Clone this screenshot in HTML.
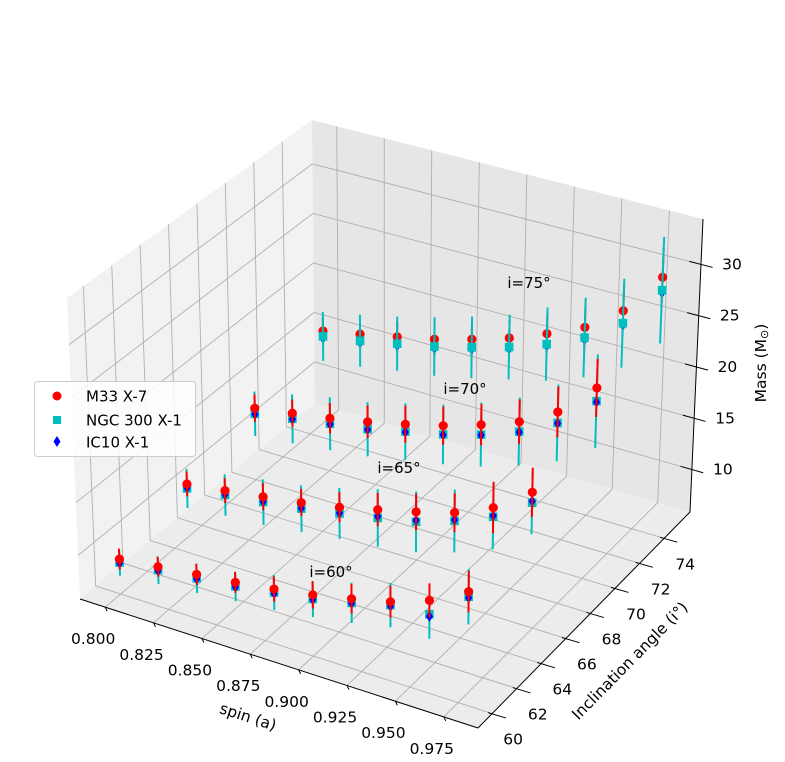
<!DOCTYPE html>
<html><head><meta charset="utf-8"><style>
html,body{margin:0;padding:0;background:#fff;}
#wrap{position:relative;width:785px;height:762px;overflow:hidden;}
svg{position:absolute;left:0;top:0;font-family:"DejaVu Sans","Liberation Sans",sans-serif;}
</style></head><body>
<div id="wrap">
<svg id="chart" width="785" height="762" viewBox="0 0 785 762">
  <g id="panes"></g>
  <g id="grid"></g>
  <g id="axes"></g>
  <g id="marks"></g>
  <g id="annot" font-size="15">
    <text x="331" y="577" text-anchor="middle">i=60°</text>
    <text x="399" y="473" text-anchor="middle">i=65°</text>
    <text x="465" y="394" text-anchor="middle">i=70°</text>
    <text x="529" y="288" text-anchor="middle">i=75°</text>
  </g>
  <g id="legend">
    <rect x="34.5" y="381.5" width="161" height="75" rx="3" fill="#fff" fill-opacity="0.85" stroke="#ccc"/>
    <g>
      <circle cx="57" cy="396" r="4.5" fill="#ff0000"/>
      <text x="86" y="401.5" font-size="15">M33 X-7</text>
    </g>
    <g>
      <rect x="53" y="416" width="8" height="8" fill="#00bfbf"/>
      <text x="86" y="425.5" font-size="15">NGC 300 X-1</text>
    </g>
    <g>
      <polygon points="57,436 60.5,441.5 57,447 53.5,441.5" fill="#0000ff"/>
      <text x="86" y="447.5" font-size="15">IC10 X-1</text>
    </g>
  </g>
</svg>
</div>
<script>
// ---- data ----
const spins = [0.80, 0.82, 0.84, 0.86, 0.88, 0.90, 0.92, 0.94, 0.96, 0.98];
const inclinations = [60, 65, 70, 75];
const m33Mass = [
  [9.18, 9.63, 10.08, 10.49, 11.03, 11.65, 12.44, 13.32, 14.61, 16.58],
  [10.98, 11.47, 12.01, 12.58, 13.26, 14.14, 15.05, 16.09, 17.68, 20.24],
  [12.90, 13.50, 14.09, 14.82, 15.67, 16.60, 17.76, 19.11, 21.11, 24.47],
  [15.04, 15.77, 16.53, 17.32, 18.35, 19.49, 20.92, 22.55, 25.17, 29.41]
];
const m33Err = [
  [1.0, 0.95, 1.0, 1.0, 1.2, 1.3, 1.4, 1.5, 1.6, 1.95],
  [1.2, 1.2, 1.3, 1.3, 1.45, 1.6, 1.75, 1.85, 2.45, 2.35],
  [1.35, 1.35, 1.5, 1.6, 1.8, 1.85, 2.0, 2.15, 2.45, 2.8],
  [1.3, 1.4, 1.5, 1.6, 1.7, 1.8, 2.0, 2.2, 2.5, 2.9]
];
const ngcMass = [
  [8.85, 9.3, 9.7, 10.1, 10.7, 11.25, 12.05, 13.0, 13.3, 16.1],
  [10.55, 11.05, 11.5, 12.0, 12.65, 13.35, 14.1, 15.3, 16.8, 19.25],
  [12.35, 12.95, 13.55, 14.1, 14.95, 15.75, 16.8, 18.15, 20.05, 23.2],
  [14.5, 15.1, 15.85, 16.6, 17.55, 18.6, 19.9, 21.55, 23.95, 28.15]
];
const ngcErr = [
  [1.25, 1.3, 1.4, 1.4, 1.65, 1.7, 1.9, 2.1, 2.3, 2.6],
  [1.9, 2.0, 2.2, 2.25, 2.45, 2.75, 2.9, 3.0, 3.1, 3.0],
  [2.2, 2.4, 2.6, 2.65, 2.75, 2.9, 3.1, 3.3, 3.7, 4.5],
  [2.45, 2.6, 2.7, 2.9, 3.05, 3.2, 3.6, 3.9, 4.35, 5.2]
];
const ic10Mass = [
  [8.8, 9.25, 9.65, 10.05, 10.6, 11.2, 12.0, 12.9, 13.1, 16.0],
  [10.6, 11.1, 11.55, 12.05, 12.7, 13.5, 14.25, 15.4, 16.9, 19.4],
  [12.3, 12.9, 13.5, 14.05, 14.9, 15.7, 16.75, 18.1, 20.0, 23.1],
  [14.3, 14.9, 15.65, 16.4, 17.35, 18.4, 19.7, 21.35, 23.75, 27.9]
];
const spinTicks = ["0.800", "0.825", "0.850", "0.875", "0.900", "0.925", "0.950", "0.975"];
const inclTicks = ["60", "62", "64", "66", "68", "70", "72", "74"];
const massTicks = ["10", "15", "20", "25", "30"];

// ---- axis limits & projection ----
const S0 = 0.787, S1 = 0.9927, I0 = 58.85, I1 = 76.1, M0 = 5.86, M1 = 34.43;
const C = {
  b00:[80,599], b10:[478,728], b01:[315,403], b11:[690,512],
  t00:[67,298], t10:[481,423], t01:[312,120], t11:[703,219]
};
function bil(a,b,c,d,u,v){
  return [0,1].map(k => a[k] + u*(b[k]-a[k]) + v*(c[k]-a[k]) + u*v*(d[k]-b[k]-c[k]+a[k]));
}
function Puvw(u,v,w){
  const b = bil(C.b00,C.b10,C.b01,C.b11,u,v);
  const t = bil(C.t00,C.t10,C.t01,C.t11,u,v);
  return [b[0]+w*(t[0]-b[0]), b[1]+w*(t[1]-b[1])];
}
const xs = s => (s - S0)/(S1 - S0);
const ys = i => (i - I0)/(I1 - I0);
const zs = m => (m - M0)/(M1 - M0);
function P(s,i,m){ return Puvw(xs(s), ys(i), zs(m)); }

const NS = "http://www.w3.org/2000/svg";
function mk(tag, attrs, parent){
  const el = document.createElementNS(NS, tag);
  for (const k in attrs) el.setAttribute(k, attrs[k]);
  parent.appendChild(el);
  return el;
}
const panes = document.getElementById('panes');
const grid = document.getElementById('grid');
const axes = document.getElementById('axes');
const marks = document.getElementById('marks');
const pts = arr => arr.map(p => p[0].toFixed(1)+","+p[1].toFixed(1)).join(" ");

let el;
el = mk('polygon', {points: pts([Puvw(0,0,0),Puvw(0,1,0),Puvw(0,1,1),Puvw(0,0,1)]), fill:'#f2f2f2'}, panes);


el = mk('polygon', {points: pts([Puvw(0,1,0),Puvw(1,1,0),Puvw(1,1,1),Puvw(0,1,1)]), fill:'#e6e6e6'}, panes);


el = mk('polygon', {points: pts([Puvw(0,0,0),Puvw(1,0,0),Puvw(1,1,0),Puvw(0,1,0)]), fill:'#ececec'}, panes);



function gline(a,b,name){
  const e = mk('line', {x1:a[0],y1:a[1],x2:b[0],y2:b[1],stroke:'#b0b0b0','stroke-width':0.9}, grid);
  
  
}
spinTicks.forEach(t => {
  const u = xs(parseFloat(t));
  gline(Puvw(u,0,0), Puvw(u,1,0), 'grid-spin-floor');
  gline(Puvw(u,1,0), Puvw(u,1,1), 'grid-spin-back');
});
inclTicks.forEach(t => {
  const v = ys(parseFloat(t));
  gline(Puvw(0,v,0), Puvw(1,v,0), 'grid-incl-floor');
  gline(Puvw(0,v,0), Puvw(0,v,1), 'grid-incl-left');
});
massTicks.forEach(t => {
  const w = zs(parseFloat(t));
  gline(Puvw(0,0,w), Puvw(0,1,w), 'grid-mass-left');
  gline(Puvw(0,1,w), Puvw(1,1,w), 'grid-mass-back');
});

function aline(a,b,name,wd){
  const e = mk('line', {x1:a[0],y1:a[1],x2:b[0],y2:b[1],stroke:'#000','stroke-width':wd||1}, axes);
  
  
}
aline(Puvw(0,0,0), Puvw(1,0,0), 'spin-axis-line');
aline(Puvw(1,0,0), Puvw(1,1,0), 'inclination-axis-line');
aline(Puvw(1,1,0), Puvw(1,1,1), 'mass-axis-line');

function label(x,y,txt,name,extra){
  const e = mk('text', Object.assign({x:x, y:y, 'font-size':15.5, 'text-anchor':'middle', 'dominant-baseline':'central'}, extra||{}), axes);
  e.textContent = txt;
  
  
  return e;
}
spinTicks.forEach(t => {
  const u = xs(parseFloat(t));
  const a = Puvw(u,0,0);
  aline(a, [a[0]+2, a[1]+4], 'spin-tick');
  label(a[0]-12, a[1]+32, t, 'spin-tick-label');
});
inclTicks.forEach(t => {
  const v = ys(parseFloat(t));
  const a = Puvw(1,v,0), b = Puvw(1.035,v,0);
  aline([a[0]-4,a[1]-1], b, 'inclination-tick');
  label(a[0]+21, a[1]+26, t, 'inclination-tick-label');
});
massTicks.forEach(t => {
  const w = zs(parseFloat(t));
  const a = Puvw(1,1,w), b = Puvw(0.97,1,w), c = Puvw(1.03,1,w);
  aline(b, c, 'mass-tick');
  label(a[0]+31, a[1], t, 'mass-tick-label');
});
label(248, 717, 'spin (a)', 'spin-axis-title', {transform:'rotate(18 248 717)'});
label(630, 661, 'Inclination angle (i°)', 'inclination-axis-title', {transform:'rotate(-45.5 630 661)'});
const zt = label(761, 363, '', 'mass-axis-title', {transform:'rotate(-90 761 363)'});
zt.innerHTML = 'Mass (M<tspan font-size="11" dy="3">⊙</tspan><tspan dy="-3">)</tspan>';

function drawSeries(kind, r, parent){
  const massArr = kind==='m33' ? m33Mass : kind==='ngc' ? ngcMass : ic10Mass;
  const errArr = kind==='m33' ? m33Err : kind==='ngc' ? ngcErr : null;
  const color = kind==='m33' ? '#ff0000' : kind==='ngc' ? '#00bfbf' : '#0000ff';
  spins.forEach((s, k) => {
    const m = massArr[r][k];
    const inc = inclinations[r];
    if (errArr){
      const e = errArr[r][k];
      const a = P(s,inc,m-e), b = P(s,inc,m+e);
      const ln = mk('line', {x1:a[0],y1:a[1],x2:b[0],y2:b[1],stroke:color,'stroke-width':2}, parent);
      
      
    }
    const p = P(s,inc,m);
    let mkEl;
    if (kind==='m33'){
      mkEl = mk('circle', {cx:p[0], cy:p[1], r:4.6, fill:color}, parent);
    } else if (kind==='ngc'){
      mkEl = mk('rect', {x:p[0]-4.3, y:p[1]-4.3, width:8.6, height:8.6, fill:color}, parent);
    } else {
      mkEl = mk('polygon', {points: pts([[p[0],p[1]-5.5],[p[0]+3.6,p[1]],[p[0],p[1]+5.5],[p[0]-3.6,p[1]]]), fill:color}, parent);
    }
    
    
  });
}
inclinations.forEach((inc, r) => {
  const g = mk('g', {}, marks);
  
  
  const order = r < 3 ? ['ngc','ic10','m33'] : ['m33','ic10','ngc'];
  order.forEach(kind => drawSeries(kind, r, g));
});
</script>
</body></html>
